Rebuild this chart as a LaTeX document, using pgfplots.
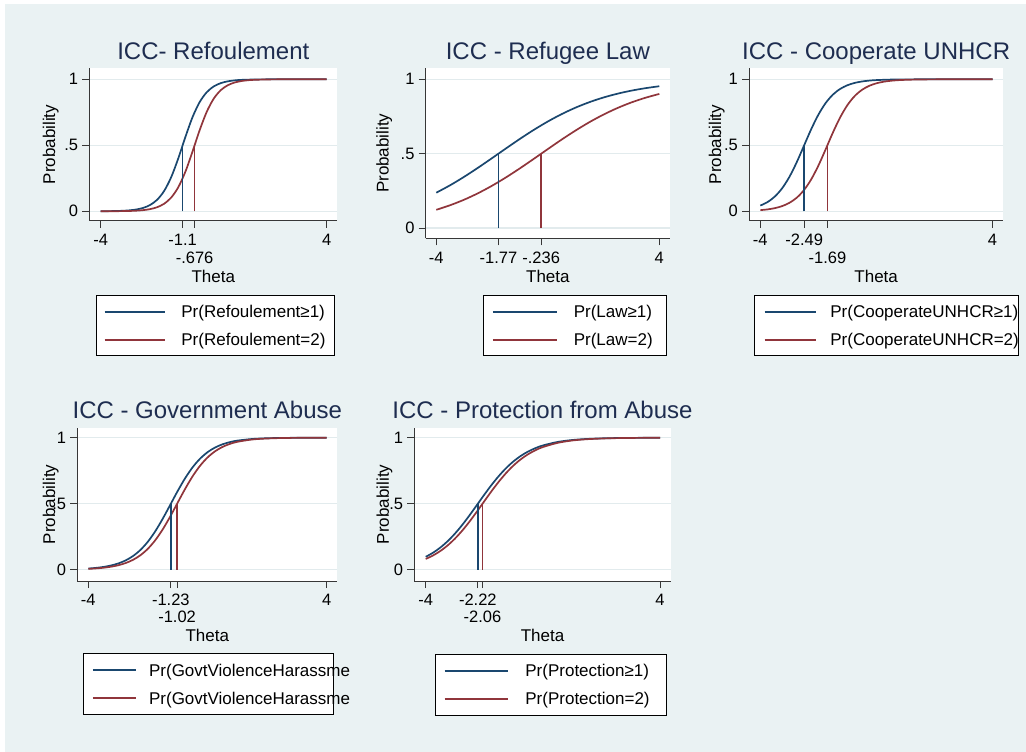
\documentclass[border=0pt]{standalone}
\usepackage{fontspec}
\setmainfont{Liberation Sans}
\usepackage{pgfplots}
\pgfplotsset{compat=1.18}
\definecolor{bgc}{RGB}{234,242,243}
\definecolor{gridc}{RGB}{226,235,237}
\definecolor{navy}{RGB}{26,71,111}
\definecolor{maroon}{RGB}{144,53,59}
\definecolor{titlec}{RGB}{30,45,80}
\definecolor{axisc}{RGB}{55,55,55}
\newcommand{\tickfont}{\fontsize{16.5bp}{19bp}\selectfont}
\newcommand{\labfont}{\fontsize{17bp}{20bp}\selectfont}
\newcommand{\titfont}{\fontsize{24bp}{28bp}\selectfont}
\pgfplotsset{
  icc/.style={
    scale only axis, anchor=south west,
    axis x line*=bottom, axis y line*=left,
    axis line style={draw=axisc, line width=0.8bp},
    axis background/.style={fill=white},
    tick align=outside, major tick length=7bp,
    tick style={draw=axisc, line width=0.8bp},
    ytick={0,0.5,1}, yticklabels={0,.5,1},
    ymajorgrids, grid style={draw=gridc, line width=1.2bp},
    ticklabel style={font=\tickfont, text=black},
    xticklabel style={anchor=base, inner sep=0bp, yshift=-17.9bp},
    yticklabel style={anchor=east, inner sep=0bp, xshift=-4bp},
    xlabel={Theta}, ylabel={Probability},
    label style={font=\labfont},
    every axis title shift=0pt,
    title style={font=\titfont, text=titlec, anchor=base},
    legend style={draw=black, fill=white, line width=0.8bp, anchor=north west,
      inner xsep=0bp, inner ysep=7.25bp, row sep=10bp, column sep=0bp,
      font=\labfont, nodes={inner sep=0bp, text height=15.1bp, text depth=2.9bp},
      cells={anchor=west}},
    every axis plot/.append style={line width=1.7bp},
    vline/.style={forget plot, line width=1.7bp},
  }
}
\begin{document}
\begin{tikzpicture}
\useasboundingbox (0,0) rectangle (1026bp,752bp);
\fill[white] (0,0) rectangle (1026bp,752bp);
\fill[bgc] (5bp,0bp) rectangle (1026bp,748bp);

% ---------- Panel 1 ----------
\begin{axis}[icc, at={(89.3bp,531.3bp)}, width=248bp, height=152.4bp,
  xmin=-4.404, xmax=4.375, ymin=-0.0712, ymax=1.0833,
  xtick={-4,-1.1,4}, xticklabels={-4,-1.1,4},
  extra x ticks={-0.676}, extra x tick labels={-.676},
  extra x tick style={xticklabel style={yshift=-17.7bp}},
  title={ICC- Refoulement},
  title style={at={([yshift=8.3bp]axis description cs:0.5,1)}},
  xlabel style={at={([yshift=-61.4bp]axis description cs:0.5,0)}, anchor=base},
  ylabel style={at={([xshift=-38.5bp]axis description cs:0,0.5)}, anchor=center},
  legend style={at={([xshift=6.7bp,yshift=-74.3bp]axis description cs:0,0)}},
  legend image code/.code={\path (0bp,0bp) (83.3bp,0bp); \draw[#1, line width=1.8bp] (7.3bp,0bp) -- (67.3bp,0bp);},
]
\addplot[navy, smooth] coordinates {(-4,0.0005) (-3.75,0.0010) (-3.5,0.0020) (-3.25,0.0037) (-3,0.0071) (-2.75,0.0135) (-2.5,0.0256) (-2.25,0.0479) (-2,0.0878) (-1.75,0.1558) (-1.5,0.2611) (-1.25,0.4037) (-1,0.5646) (-0.75,0.7130) (-0.5,0.8264) (-0.25,0.9012) (0,0.9458) (0.25,0.9710) (0.5,0.9846) (0.75,0.9919) (1,0.9958) (1.5,0.9988) (2,0.9997) (3,1.0) (4,1.0)};
\addlegendentry{\makebox[152.7bp][l]{Pr(Refoulement≥1)}}
\addplot[maroon, smooth] coordinates {(-4,0.0002) (-3.5,0.0007) (-3,0.0024) (-2.75,0.0045) (-2.5,0.0087) (-2.25,0.0165) (-2,0.0311) (-1.75,0.0579) (-1.5,0.1053) (-1.25,0.1839) (-1,0.3015) (-0.75,0.4526) (-0.5,0.6130) (-0.25,0.7521) (0,0.8532) (0.25,0.9176) (0.5,0.9552) (0.75,0.9761) (1,0.9874) (1.25,0.9934) (1.5,0.9965) (2,0.9991) (2.5,0.9998) (3,0.9999) (4,1.0)};
\addlegendentry{\makebox[152.7bp][l]{Pr(Refoulement=2)}}
\addplot[navy, vline] coordinates {(-1.1,0) (-1.1,0.5)};
\addplot[maroon, vline] coordinates {(-0.676,0) (-0.676,0.5)};
\end{axis}

% ---------- Panel 2 ----------
\begin{axis}[icc, at={(425.7bp,513.7bp)}, width=244.3bp, height=170bp,
  xmin=-4.38, xmax=4.384, ymin=-0.069, ymax=1.074,
  xtick={-4,-1.77,-0.236,4}, xticklabels={-4,-1.77,-.236,4},
  title={ICC - Refugee Law},
  title style={at={([yshift=8.3bp]axis description cs:0.5,1)}},
  xlabel style={at={([yshift=-43.8bp]axis description cs:0.5,0)}, anchor=base},
  ylabel style={at={([xshift=-41.5bp]axis description cs:0,0.5)}, anchor=center},
  legend style={at={([xshift=57.6bp,yshift=-56.7bp]axis description cs:0,0)}},
  legend image code/.code={\path (0bp,0bp) (88.4bp,0bp); \draw[#1, line width=1.8bp] (8.4bp,0bp) -- (72.7bp,0bp);},
]
\addplot[navy, smooth] coordinates {(-4,0.2376) (-3.5,0.2880) (-3,0.3446) (-2.5,0.4057) (-2,0.4700) (-1.5,0.5352) (-1,0.5994) (-0.5,0.6602) (0,0.7162) (0.5,0.7662) (1,0.8098) (1.5,0.8468) (2,0.8778) (2.5,0.9032) (3,0.9238) (3.5,0.9402) (4,0.9534)};
\addlegendentry{\makebox[92.3bp][l]{Pr(Law≥1)}}
\addplot[maroon, smooth] coordinates {(-4,0.1225) (-3.5,0.1536) (-3,0.1906) (-2.5,0.2343) (-2,0.2844) (-1.5,0.3405) (-1,0.4014) (-0.5,0.4655) (0,0.5307) (0.5,0.5951) (1,0.6561) (1.5,0.7126) (2,0.7629) (2.5,0.8070) (3,0.8445) (3.5,0.8758) (4,0.9016)};
\addlegendentry{\makebox[92.3bp][l]{Pr(Law=2)}}
\addplot[navy, vline] coordinates {(-1.77,0) (-1.77,0.5)};
\addplot[maroon, vline] coordinates {(-0.236,0) (-0.236,0.5)};
\end{axis}

% ---------- Panel 3 ----------
\begin{axis}[icc, at={(749bp,531.3bp)}, width=254.3bp, height=152.4bp,
  xmin=-4.39, xmax=4.37, ymin=-0.0712, ymax=1.0833,
  xtick={-4,-2.49,4}, xticklabels={-4,-2.49,4},
  extra x ticks={-1.69}, extra x tick labels={-1.69},
  extra x tick style={xticklabel style={yshift=-17.7bp}},
  title={ICC - Cooperate UNHCR},
  title style={at={([yshift=8.3bp]axis description cs:0.5,1)}},
  xlabel style={at={([yshift=-61.4bp]axis description cs:0.5,0)}, anchor=base},
  ylabel style={at={([xshift=-32.3bp]axis description cs:0,0.5)}, anchor=center},
  legend style={at={([xshift=5bp,yshift=-74.3bp]axis description cs:0,0)}},
  legend image code/.code={\path (0bp,0bp) (74.3bp,0bp); \draw[#1, line width=1.8bp] (9.3bp,0bp) -- (61bp,0bp);},
]
\addplot[navy, smooth] coordinates {(-4,0.0433) (-3.75,0.0702) (-3.5,0.1120) (-3.25,0.1739) (-3,0.2600) (-2.75,0.3698) (-2.5,0.4949) (-2.25,0.6206) (-2,0.7320) (-1.75,0.8201) (-1.5,0.8839) (-1.25,0.9270) (-1,0.9550) (-0.75,0.9726) (-0.5,0.9834) (-0.25,0.9900) (0,0.9940) (0.5,0.9978) (1,0.9992) (1.5,0.9997) (2,0.9999) (3,1.0) (4,1.0)};
\addlegendentry{\makebox[187.7bp][l]{Pr(CooperateUNHCR≥1)}}
\addplot[maroon, smooth] coordinates {(-4,0.0087) (-3.75,0.0144) (-3.5,0.0239) (-3.25,0.0392) (-3,0.0638) (-2.75,0.1022) (-2.5,0.1597) (-2.25,0.2408) (-2,0.3461) (-1.75,0.4693) (-1.5,0.5963) (-1.25,0.7113) (-1,0.8045) (-0.75,0.8729) (-0.5,0.9198) (-0.25,0.9504) (0,0.9697) (0.25,0.9816) (0.5,0.9889) (0.75,0.9933) (1,0.9960) (1.5,0.9986) (2,0.9995) (2.5,0.9998) (3,0.9999) (4,1.0)};
\addlegendentry{\makebox[187.7bp][l]{Pr(CooperateUNHCR=2)}}
\addplot[navy, vline] coordinates {(-2.49,0) (-2.49,0.5)};
\addplot[maroon, vline] coordinates {(-1.69,0) (-1.69,0.5)};
\end{axis}

% ---------- Panel 4 ----------
\begin{axis}[icc, at={(77.3bp,171bp)}, width=260bp, height=153.3bp,
  xmin=-4.37, xmax=4.356, ymin=-0.0856, ymax=1.0758,
  xtick={-4,-1.23,4}, xticklabels={-4,-1.23,4},
  extra x ticks={-1.02}, extra x tick labels={-1.02},
  extra x tick style={xticklabel style={yshift=-17bp}},
  xticklabel style={yshift=0.2bp},
  title={ICC - Government Abuse},
  title style={at={([yshift=9.4bp]axis description cs:0.5,1)}},
  xlabel style={at={([yshift=-60.7bp]axis description cs:0.5,0)}, anchor=base},
  ylabel style={at={([xshift=-26.5bp]axis description cs:0,0.5)}, anchor=center},
  legend style={at={([xshift=6bp,yshift=-72.3bp]axis description cs:0,0)}},
  legend image code/.code={\path (0bp,0bp) (63.7bp,0bp); \draw[#1, line width=1.8bp] (8.4bp,0bp) -- (51.7bp,0bp);},
]
\addplot[navy, smooth] coordinates {(-4,0.0089) (-3.75,0.0136) (-3.5,0.0207) (-3.25,0.0313) (-3,0.0470) (-2.75,0.0702) (-2.5,0.1035) (-2.25,0.1501) (-2,0.2126) (-1.75,0.2923) (-1.5,0.3873) (-1.25,0.4915) (-1,0.5965) (-0.75,0.6934) (-0.5,0.7757) (-0.25,0.8410) (0,0.8900) (0.25,0.9252) (0.5,0.9498) (0.75,0.9666) (1,0.9779) (1.5,0.9904) (2,0.9959) (2.5,0.9982) (3,0.9993) (3.5,0.9997) (4,0.9999)};
\addlegendentry{\makebox[184bp][l]{Pr(GovtViolenceHarassment≥1)}}
\addplot[maroon, smooth] coordinates {(-4,0.0063) (-3.75,0.0096) (-3.5,0.0145) (-3.25,0.0221) (-3,0.0334) (-2.75,0.0502) (-2.5,0.0747) (-2.25,0.1100) (-2,0.1590) (-1.75,0.2243) (-1.5,0.3066) (-1.25,0.4035) (-1,0.5085) (-0.75,0.6128) (-0.5,0.7077) (-0.25,0.7874) (0,0.8499) (0.25,0.8965) (0.5,0.9298) (0.75,0.9530) (1,0.9688) (1.5,0.9864) (2,0.9941) (2.5,0.9975) (3,0.9989) (3.5,0.9995) (4,0.9998)};
\addlegendentry{\makebox[184bp][l]{Pr(GovtViolenceHarassment=2)}}
\addplot[navy, vline] coordinates {(-1.23,0) (-1.23,0.5)};
\addplot[maroon, vline] coordinates {(-1.02,0) (-1.02,0.5)};
\end{axis}
\fill[bgc] (351bp,30bp) rectangle (428bp,105bp);

% ---------- Panel 5 ----------
\begin{axis}[icc, at={(414.3bp,171bp)}, width=256.4bp, height=153.3bp,
  xmin=-4.39, xmax=4.365, ymin=-0.0856, ymax=1.0758,
  xtick={-4,-2.22,4}, xticklabels={-4,-2.22,4},
  extra x ticks={-2.06}, extra x tick labels={-2.06},
  extra x tick style={xticklabel style={yshift=-17bp}},
  xticklabel style={yshift=0.2bp},
  title={ICC - Protection from Abuse},
  title style={at={([yshift=9.4bp]axis description cs:0.5,1)}},
  xlabel style={at={([yshift=-60.7bp]axis description cs:0.5,0)}, anchor=base},
  ylabel style={at={([xshift=-29.8bp]axis description cs:0,0.5)}, anchor=center},
  legend style={at={([xshift=20.7bp,yshift=-73bp]axis description cs:0,0)}},
  legend image code/.code={\path (0bp,0bp) (88.3bp,0bp); \draw[#1, line width=1.8bp] (8.3bp,0bp) -- (71.7bp,0bp);},
]
\addplot[navy, smooth] coordinates {(-4,0.0975) (-3.75,0.1287) (-3.5,0.1680) (-3.25,0.2163) (-3,0.2739) (-2.75,0.3401) (-2.5,0.4134) (-2.25,0.4906) (-2,0.5683) (-1.75,0.6428) (-1.5,0.7109) (-1.25,0.7708) (-1,0.8213) (-0.75,0.8627) (-0.5,0.8957) (-0.25,0.9215) (0,0.9413) (0.5,0.9677) (1,0.9825) (1.5,0.9905) (2,0.9949) (2.5,0.9973) (3,0.9985) (3.5,0.9992) (4,0.9996)};
\addlegendentry{\makebox[140.7bp][l]{Pr(Protection≥1)}}
\addplot[maroon, smooth] coordinates {(-4,0.0813) (-3.75,0.1079) (-3.5,0.1418) (-3.25,0.1843) (-3,0.2360) (-2.75,0.2968) (-2.5,0.3659) (-2.25,0.4409) (-2,0.5187) (-1.75,0.5957) (-1.5,0.6682) (-1.25,0.7335) (-1,0.7900) (-0.75,0.8372) (-0.5,0.8754) (-0.25,0.9057) (0,0.9292) (0.5,0.9608) (1,0.9787) (1.5,0.9885) (2,0.9938) (2.5,0.9967) (3,0.9982) (3.5,0.9990) (4,0.9995)};
\addlegendentry{\makebox[140.7bp][l]{Pr(Protection=2)}}
\addplot[navy, vline] coordinates {(-2.22,0) (-2.22,0.5)};
\addplot[maroon, vline] coordinates {(-2.06,0) (-2.06,0.5)};
\end{axis}
\end{tikzpicture}
\end{document}
